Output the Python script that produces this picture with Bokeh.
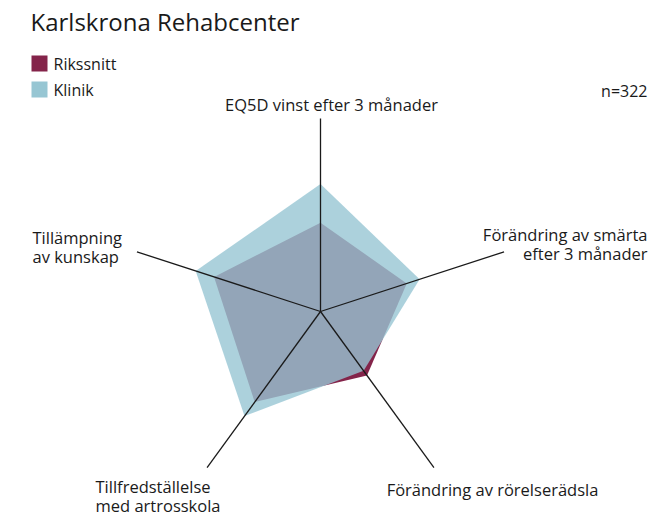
import numpy as np
from bokeh.plotting import figure
from bokeh.models import Range1d, Label
from bokeh.embed import file_html
from bokeh.resources import INLINE

# ---- data ----
axes_labels = [
    "EQ5D vinst efter 3 månader",
    "Förändring av smärta\nefter 3 månader",
    "Förändring av rörelserädsla",
    "Tillfredställelse\nmed artrosskola",
    "Tillämpning\nav kunskap",
]
rikssnitt = [0.46, 0.47, 0.41, 0.58, 0.58]
klinik = [0.66, 0.54, 0.38, 0.67, 0.68]
series_names = ["Rikssnitt", "Klinik"]
title_text = "Karlskrona Rehabcenter"
n_text = "n=322"

# ---- style / layout ----
FONT = "Open Sans"
TXT = "#1a1a1a"
RIKS_COLOR = "#84244A"
KLIN_COLOR = "#97C6D3"
W, H = 656, 521
CX, CY = 320, 311          # radar centre (page px)
R = 193                    # radius for value 1.0

p = figure(width=W, height=H, output_backend="svg", toolbar_location=None,
           x_range=Range1d(0, W), y_range=Range1d(H, 0),
           min_border=0)
p.axis.visible = False
p.grid.visible = False
p.outline_line_color = None
p.background_fill_color = "white"
p.border_fill_color = "white"

n = len(axes_labels)
angles = np.pi / 2 - np.arange(n) * 2 * np.pi / n
dx = np.cos(angles)
dy = -np.sin(angles)  # y grows downward in page coords


def poly(vals):
    v = np.asarray(vals)
    return list(CX + R * v * dx), list(CY + R * v * dy)


rx, ry = poly(rikssnitt)
kx, ky = poly(klinik)
p.patch(rx, ry, fill_color=RIKS_COLOR, fill_alpha=1.0, line_color=None)
p.patch(kx, ky, fill_color=KLIN_COLOR, fill_alpha=0.8, line_color=None)

# spokes
xs = [[CX, CX + R * dx[i]] for i in range(n)]
ys = [[CY, CY + R * dy[i]] for i in range(n)]
p.multi_line(xs, ys, line_color=TXT, line_width=1.3)

# axis labels
label_specs = [
    (331, 104, "center", [axes_labels[0]]),
    (647, 234, "right", axes_labels[1].split("\n")),
    (492, 489, "center", [axes_labels[2]]),
    (95, 486, "left", axes_labels[3].split("\n")),
    (32, 237, "left", axes_labels[4].split("\n")),
]
LINE_H = 19
for x, y, align, lines in label_specs:
    for j, t in enumerate(lines):
        p.add_layout(Label(x=x, y=y + j * LINE_H, text=t, text_align=align,
                           text_baseline="middle", text_font=FONT,
                           text_font_size="16.5px", text_color=TXT))

# title
p.add_layout(Label(x=30, y=21, text=title_text, text_align="left",
                   text_baseline="middle", text_font=FONT,
                   text_font_size="24px", text_color=TXT))

# legend
leg_colors = [RIKS_COLOR, KLIN_COLOR]
for i, (name, col) in enumerate(zip(series_names, leg_colors)):
    yc = 63 + i * 26
    p.quad(left=[31], right=[47], top=[yc - 8], bottom=[yc + 8],
           fill_color=col, line_color=None)
    p.add_layout(Label(x=53, y=yc, text=name, text_align="left",
                       text_baseline="middle", text_font=FONT,
                       text_font_size="16px", text_color=TXT))

p.add_layout(Label(x=647, y=90, text=n_text, text_align="right",
                   text_baseline="middle", text_font=FONT,
                   text_font_size="16px", text_color=TXT))

open("out.html", "w").write(file_html(p, INLINE))
